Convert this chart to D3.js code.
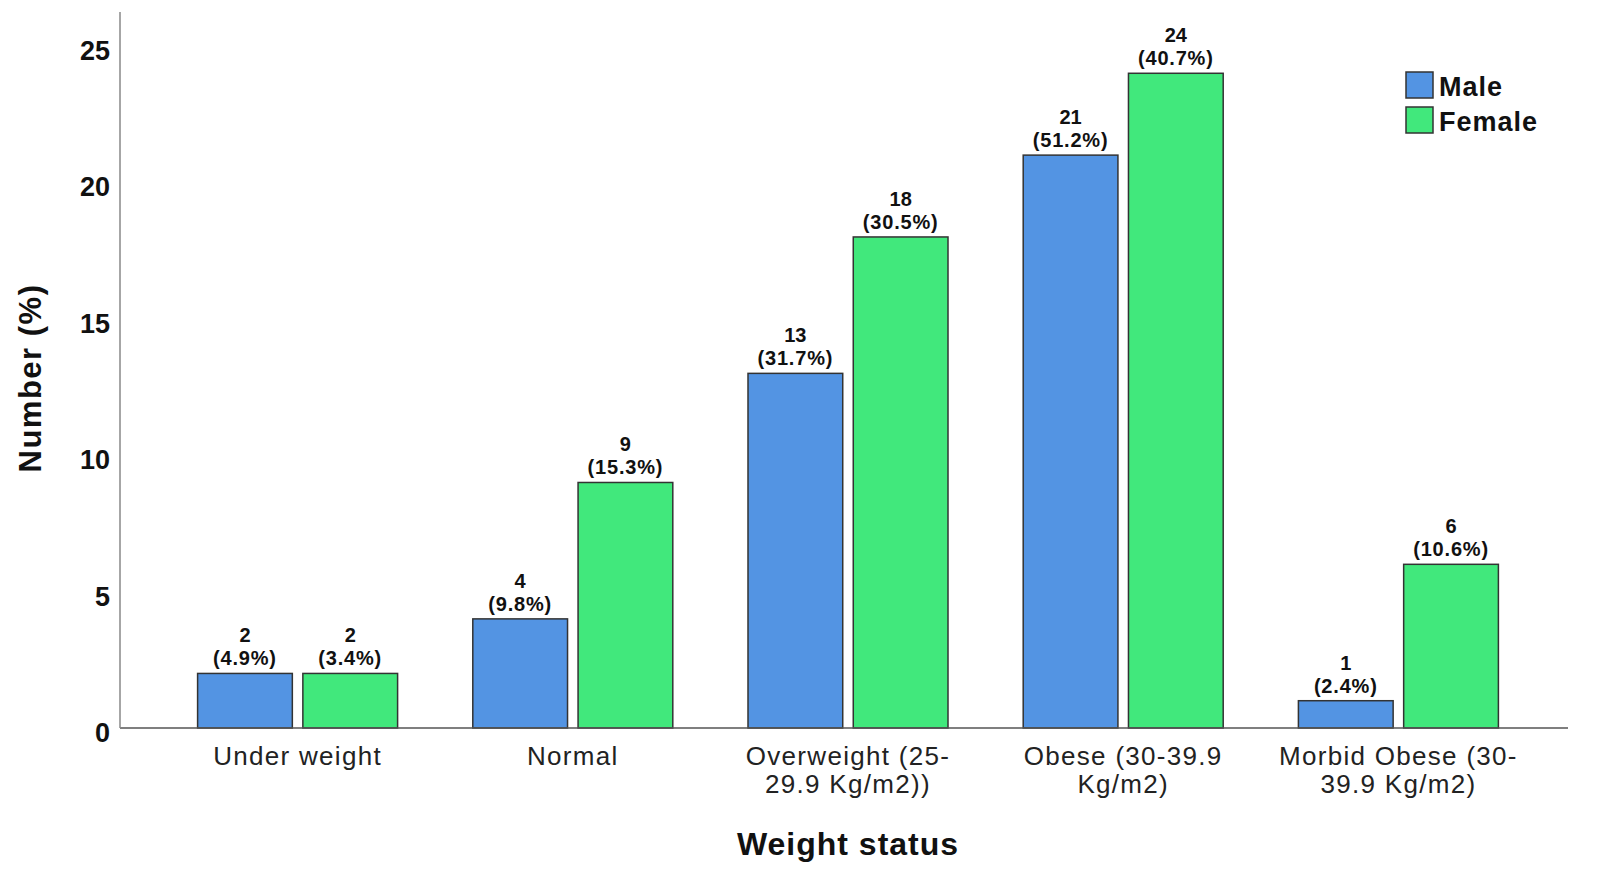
<!DOCTYPE html>
<html>
<head>
<meta charset="utf-8">
<script src="https://cdn.jsdelivr.net/npm/d3@7"></script>
<style>
  html, body { margin: 0; padding: 0; background: #fff; overflow: hidden; }
  svg { display: block; }
</style>
</head>
<body>
<svg id="svg">
  <g id="mark"></g>
  <g id="labels"></g>
  <g id="xAxis"></g>
  <g id="yAxis"></g>
  <g id="legend"></g>
</svg>
<script>
// values
const categories = ["Under weight", "Normal", "Overweight (25-\n29.9 Kg/m2))", "Obese (30-39.9\nKg/m2)", "Morbid Obese (30-\n39.9 Kg/m2)"];
const series = ["Male", "Female"];
const maleCounts = [2, 4, 13, 21, 1];
const femaleCounts = [2, 9, 18, 24, 6];
const malePct = ["4.9", "9.8", "31.7", "51.2", "2.4"];
const femalePct = ["3.4", "15.3", "30.5", "40.7", "10.6"];
const yTicks = [0, 5, 10, 15, 20, 25];

let layout = {"width": 1600, "height": 879,
              "axisLeft": 120, "axisRight": 1568,
              "bandLeft": 160, "bandRight": 1536,
              "top": 12, "bottom": 728};

// fill the window whatever its real pixel size
let svgElement = d3.select("#svg")
  .attr("width", "100vw")
  .attr("height", "100vh")
  .attr("viewBox", `0 0 ${layout.width} ${layout.height}`);

let rows = [];
categories.forEach((c, i) => {
  rows.push({cat: c, s: "Male", v: maleCounts[i], p: malePct[i]});
  rows.push({cat: c, s: "Female", v: femaleCounts[i], p: femalePct[i]});
});

let xScale = d3.scaleBand()
  .domain(categories)
  .range([layout.bandLeft, layout.bandRight]);

let groupW = 200;
let x1 = d3.scaleBand()
  .domain(series)
  .range([(xScale.bandwidth() - groupW) / 2, (xScale.bandwidth() + groupW) / 2])
  .paddingInner(0.1);

let yScale = d3.scaleLinear()
  .domain([0, 25])
  .range([layout.bottom, 46]);

let colorScale = d3.scaleOrdinal()
  .domain(series)
  .range(["#5394e3", "#41e87c"]);

// bars
svgElement.select("#mark")
  .selectAll("rect")
  .data(rows)
  .join("rect")
  .attr("x", d => xScale(d.cat) + x1(d.s))
  .attr("y", d => yScale(d.v))
  .attr("width", x1.bandwidth())
  .attr("height", d => yScale(0) - yScale(d.v))
  .attr("fill", d => colorScale(d.s))
  .attr("stroke", "#333")
  .attr("stroke-width", 1.5);

// value labels
let lab = svgElement.select("#labels")
  .selectAll("g")
  .data(rows)
  .join("g")
  .attr("transform", d => `translate(${xScale(d.cat) + x1(d.s) + x1.bandwidth() / 2}, ${yScale(d.v)})`)
  .attr("font-family", "'Liberation Sans', Arial, sans-serif")
  .attr("font-weight", "bold")
  .attr("font-size", 20)
  .attr("text-anchor", "middle")
  .attr("fill", "#111");

lab.append("text").attr("y", -31).text(d => d.v);
lab.append("text").attr("y", -8).attr("letter-spacing", 0.8).text(d => `(${d.p}%)`);

// x axis
let xAxis = svgElement.select("#xAxis");
xAxis.append("line")
  .attr("x1", layout.axisLeft).attr("x2", layout.axisRight)
  .attr("y1", layout.bottom).attr("y2", layout.bottom)
  .attr("stroke", "#555").attr("stroke-width", 1.5);

xAxis.selectAll(".xLab")
  .data(categories)
  .join("text")
  .attr("class", "xLab")
  .attr("x", d => xScale(d) + xScale.bandwidth() / 2)
  .attr("y", 765)
  .attr("text-anchor", "middle")
  .attr("font-family", "'Liberation Sans', Arial, sans-serif")
  .attr("font-size", 26)
  .attr("letter-spacing", 1.3)
  .attr("fill", "#222")
  .each(function(d) {
    let t = d3.select(this);
    d.split("\n").forEach((line, i) => {
      t.append("tspan")
        .attr("x", xScale(d) + xScale.bandwidth() / 2)
        .attr("dy", i === 0 ? 0 : 28)
        .text(line);
    });
  });

xAxis.append("text")
  .attr("x", 848).attr("y", 855)
  .attr("text-anchor", "middle")
  .attr("font-family", "'Liberation Sans', Arial, sans-serif")
  .attr("font-weight", "bold")
  .attr("font-size", 32)
  .attr("letter-spacing", 1)
  .attr("fill", "#111")
  .text("Weight status");

// y axis
let yAxis = svgElement.select("#yAxis");
yAxis.append("line")
  .attr("x1", layout.axisLeft).attr("x2", layout.axisLeft)
  .attr("y1", layout.top).attr("y2", layout.bottom)
  .attr("stroke", "#888").attr("stroke-width", 1.5);

yAxis.selectAll(".yLab")
  .data(yTicks)
  .join("text")
  .attr("class", "yLab")
  .attr("x", 110)
  .attr("y", d => yScale(d) + 14)
  .attr("text-anchor", "end")
  .attr("font-family", "'Liberation Sans', Arial, sans-serif")
  .attr("font-weight", "bold")
  .attr("font-size", 27)
  .attr("fill", "#111")
  .text(d => d);

yAxis.append("text")
  .attr("transform", `translate(41, 378) rotate(-90)`)
  .attr("text-anchor", "middle")
  .attr("font-family", "'Liberation Sans', Arial, sans-serif")
  .attr("font-weight", "bold")
  .attr("font-size", 31)
  .attr("letter-spacing", 1.5)
  .attr("fill", "#111")
  .text("Number (%)");

// legend
let legend = svgElement.select("#legend")
  .selectAll("g")
  .data(series)
  .join("g")
  .attr("transform", (d, i) => `translate(1406, ${72 + 35 * i})`);

legend.append("rect")
  .attr("width", 27).attr("height", 26)
  .attr("fill", d => colorScale(d))
  .attr("stroke", "#333").attr("stroke-width", 1.5);

legend.append("text")
  .attr("x", 33).attr("y", 24)
  .attr("font-family", "'Liberation Sans', Arial, sans-serif")
  .attr("font-weight", "bold")
  .attr("font-size", 27)
  .attr("letter-spacing", 1)
  .attr("fill", "#111")
  .text(d => d);
</script>
</body>
</html>
